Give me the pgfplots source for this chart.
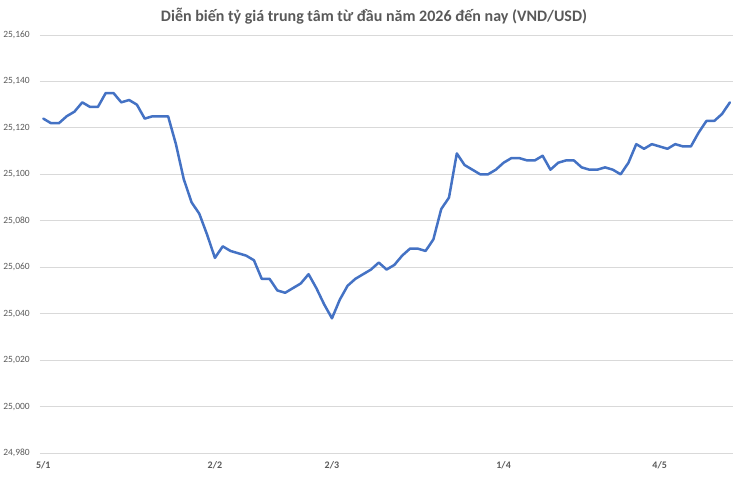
\documentclass[border=0pt]{standalone}
\usepackage{pgfplots}
\pgfplotsset{compat=1.18}
\usepackage{pgfplotstable}
\usepackage{fontspec}
\setmainfont{Carlito}
\definecolor{linecol}{HTML}{4472C4}
\definecolor{gridcol}{HTML}{D9D9D9}
\definecolor{txtcol}{HTML}{595959}

% central rate, one row per trading day (index, VND per USD)
\pgfplotstableread{
idx val
0 25124
1 25122
2 25122
3 25125
4 25127
5 25131
6 25129
7 25129
8 25135
9 25135
10 25131
11 25132
12 25130
13 25124
14 25125
15 25125
16 25125
17 25113
18 25098
19 25088
20 25083
21 25074
22 25064
23 25069
24 25067
25 25066
26 25065
27 25063
28 25055
29 25055
30 25050
31 25049
32 25051
33 25053
34 25057
35 25051
36 25044
37 25038
38 25046
39 25052
40 25055
41 25057
42 25059
43 25062
44 25059
45 25061
46 25065
47 25068
48 25068
49 25067
50 25072
51 25085
52 25090
53 25109
54 25104
55 25102
56 25100
57 25100
58 25102
59 25105
60 25107
61 25107
62 25106
63 25106
64 25108
65 25102
66 25105
67 25106
68 25106
69 25103
70 25102
71 25102
72 25103
73 25102
74 25100
75 25105
76 25113
77 25111
78 25113
79 25112
80 25111
81 25113
82 25112
83 25112
84 25118
85 25123
86 25123
87 25126
88 25131
}\ratedata

\begin{document}
\begin{tikzpicture}[x=1pt,y=1pt]
\path[use as bounding box] (0,0) rectangle (740,477);
\begin{axis}[
  at={(40pt,24pt)}, anchor=south west,
  scale only axis, width=693pt, height=418pt,
  xmin=-0.42, xmax=88.4, ymin=24980, ymax=25160,
  ytick distance=20,
  scaled y ticks=false,
  ymajorgrids, major grid style={draw=gridcol, line width=0.8pt},
  axis line style={draw=none},
  major tick length=0pt,
  xtick={0,22,37,59,79},
  xticklabels={5/1,2/2,2/3,1/4,4/5},
  x tick label style={font=\bfseries\fontsize{10}{12}\selectfont, text=txtcol, anchor=north, inner sep=0pt, yshift=-8pt},
  y tick label style={font=\fontsize{9.5}{11}\selectfont, text=txtcol, anchor=east, inner sep=0pt, xshift=-10pt},
  yticklabel style={/pgf/number format/.cd, fixed, precision=0, 1000 sep={,}, assume math mode=true},
  clip=false,
]
\addplot[linecol, line width=2.5pt, line join=round, line cap=round] table[x=idx, y=val] {\ratedata};
\end{axis}
\node[font=\bfseries\fontsize{16}{19}\selectfont, text=txtcol] at (374,461) {Diễn biến tỷ giá trung tâm từ đầu năm 2026 đến nay (VND/USD)};
\end{tikzpicture}
\end{document}
